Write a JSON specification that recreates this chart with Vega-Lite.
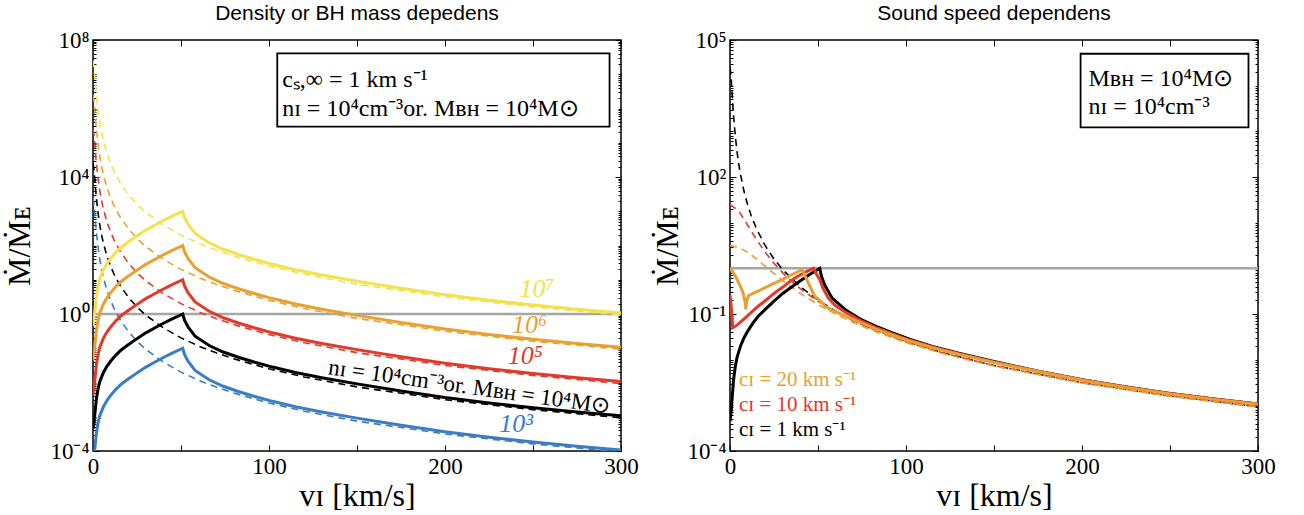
{
"$schema":"https://vega.github.io/schema/vega-lite/v6.json",
"background":"white",
"padding":{"left":2,"top":2,"right":0,"bottom":0},
"bounds":"flush",
"spacing":109,
"resolve":{"scale":{"x":"independent","y":"independent","color":"independent"}},
"config":{
 "view":{"stroke":"#000","strokeWidth":1.5},
 "axis":{"domain":false,"grid":false,"tickColor":"#000","tickWidth":1,"tickSize":-6,"labelPadding":10,"labelFont":"Liberation Serif","labelFontSize":23,"labelColor":"#000","labelFlush":false,"labelOverlap":false,"titleFont":"Liberation Serif","titleFontSize":32,"titleFontWeight":"normal","titleColor":"#000"},
 "title":{"font":"Liberation Sans","fontSize":21,"fontWeight":"normal","color":"#000"},
 "text":{"font":"Liberation Serif"}
},
"datasets":{
"Ls":[
{"s":"7","v":0,"m":4.47e-1},{"s":"7","v":0.5,"m":6.31e-1},{"s":"7","v":1,"m":1.12e0},{"s":"7","v":1.5,"m":2.0e0},{"s":"7","v":2,"m":3.55e0},{"s":"7","v":3,"m":7.08e0},{"s":"7","v":4,"m":1.12e1},{"s":"7","v":6,"m":2.0e1},{"s":"7","v":8,"m":3.02e1},{"s":"7","v":10,"m":4.17e1},{"s":"7","v":13,"m":6.31e1},{"s":"7","v":16,"m":8.91e1},{"s":"7","v":20,"m":1.26e2},{"s":"7","v":25,"m":1.91e2},{"s":"7","v":30,"m":2.82e2},{"s":"7","v":35,"m":3.89e2},{"s":"7","v":40,"m":5.37e2},{"s":"7","v":45,"m":7.24e2},{"s":"7","v":51,"m":1e3},{"s":"7","v":52,"m":6.61e2},{"s":"7","v":54,"m":4.17e2},{"s":"7","v":58,"m":2.24e2},{"s":"7","v":66,"m":1.2e2},{"s":"7","v":74,"m":7.76e1},{"s":"7","v":83,"m":5.37e1},{"s":"7","v":92,"m":3.89e1},{"s":"7","v":102,"m":2.82e1},{"s":"7","v":115,"m":1.95e1},{"s":"7","v":130,"m":1.38e1},{"s":"7","v":150,"m":9.12e0},{"s":"7","v":175,"m":5.62e0},{"s":"7","v":200,"m":3.63e0},{"s":"7","v":225,"m":2.51e0},{"s":"7","v":250,"m":1.82e0},{"s":"7","v":275,"m":1.38e0},{"s":"7","v":300,"m":1.07e0},
{"s":"6","v":0,"m":4.47e-2},{"s":"6","v":0.5,"m":6.31e-2},{"s":"6","v":1,"m":1.12e-1},{"s":"6","v":1.5,"m":2.0e-1},{"s":"6","v":2,"m":3.55e-1},{"s":"6","v":3,"m":7.08e-1},{"s":"6","v":4,"m":1.12e0},{"s":"6","v":6,"m":2.0e0},{"s":"6","v":8,"m":3.02e0},{"s":"6","v":10,"m":4.17e0},{"s":"6","v":13,"m":6.31e0},{"s":"6","v":16,"m":8.91e0},{"s":"6","v":20,"m":1.26e1},{"s":"6","v":25,"m":1.91e1},{"s":"6","v":30,"m":2.82e1},{"s":"6","v":35,"m":3.89e1},{"s":"6","v":40,"m":5.37e1},{"s":"6","v":45,"m":7.24e1},{"s":"6","v":51,"m":1e2},{"s":"6","v":52,"m":6.61e1},{"s":"6","v":54,"m":4.17e1},{"s":"6","v":58,"m":2.24e1},{"s":"6","v":66,"m":1.2e1},{"s":"6","v":74,"m":7.76e0},{"s":"6","v":83,"m":5.37e0},{"s":"6","v":92,"m":3.89e0},{"s":"6","v":102,"m":2.82e0},{"s":"6","v":115,"m":1.95e0},{"s":"6","v":130,"m":1.38e0},{"s":"6","v":150,"m":9.12e-1},{"s":"6","v":175,"m":5.62e-1},{"s":"6","v":200,"m":3.63e-1},{"s":"6","v":225,"m":2.51e-1},{"s":"6","v":250,"m":1.82e-1},{"s":"6","v":275,"m":1.38e-1},{"s":"6","v":300,"m":1.07e-1},
{"s":"5","v":0,"m":4.47e-3},{"s":"5","v":0.5,"m":6.31e-3},{"s":"5","v":1,"m":1.12e-2},{"s":"5","v":1.5,"m":2.0e-2},{"s":"5","v":2,"m":3.55e-2},{"s":"5","v":3,"m":7.08e-2},{"s":"5","v":4,"m":1.12e-1},{"s":"5","v":6,"m":2.0e-1},{"s":"5","v":8,"m":3.02e-1},{"s":"5","v":10,"m":4.17e-1},{"s":"5","v":13,"m":6.31e-1},{"s":"5","v":16,"m":8.91e-1},{"s":"5","v":20,"m":1.26e0},{"s":"5","v":25,"m":1.91e0},{"s":"5","v":30,"m":2.82e0},{"s":"5","v":35,"m":3.89e0},{"s":"5","v":40,"m":5.37e0},{"s":"5","v":45,"m":7.24e0},{"s":"5","v":51,"m":1e1},{"s":"5","v":52,"m":6.61e0},{"s":"5","v":54,"m":4.17e0},{"s":"5","v":58,"m":2.24e0},{"s":"5","v":66,"m":1.2e0},{"s":"5","v":74,"m":7.76e-1},{"s":"5","v":83,"m":5.37e-1},{"s":"5","v":92,"m":3.89e-1},{"s":"5","v":102,"m":2.82e-1},{"s":"5","v":115,"m":1.95e-1},{"s":"5","v":130,"m":1.38e-1},{"s":"5","v":150,"m":9.12e-2},{"s":"5","v":175,"m":5.62e-2},{"s":"5","v":200,"m":3.63e-2},{"s":"5","v":225,"m":2.51e-2},{"s":"5","v":250,"m":1.82e-2},{"s":"5","v":275,"m":1.38e-2},{"s":"5","v":300,"m":1.07e-2},
{"s":"4","v":0,"m":4.47e-4},{"s":"4","v":0.5,"m":6.31e-4},{"s":"4","v":1,"m":1.12e-3},{"s":"4","v":1.5,"m":2.0e-3},{"s":"4","v":2,"m":3.55e-3},{"s":"4","v":3,"m":7.08e-3},{"s":"4","v":4,"m":1.12e-2},{"s":"4","v":6,"m":2.0e-2},{"s":"4","v":8,"m":3.02e-2},{"s":"4","v":10,"m":4.17e-2},{"s":"4","v":13,"m":6.31e-2},{"s":"4","v":16,"m":8.91e-2},{"s":"4","v":20,"m":1.26e-1},{"s":"4","v":25,"m":1.91e-1},{"s":"4","v":30,"m":2.82e-1},{"s":"4","v":35,"m":3.89e-1},{"s":"4","v":40,"m":5.37e-1},{"s":"4","v":45,"m":7.24e-1},{"s":"4","v":51,"m":1e0},{"s":"4","v":52,"m":6.61e-1},{"s":"4","v":54,"m":4.17e-1},{"s":"4","v":58,"m":2.24e-1},{"s":"4","v":66,"m":1.2e-1},{"s":"4","v":74,"m":7.76e-2},{"s":"4","v":83,"m":5.37e-2},{"s":"4","v":92,"m":3.89e-2},{"s":"4","v":102,"m":2.82e-2},{"s":"4","v":115,"m":1.95e-2},{"s":"4","v":130,"m":1.38e-2},{"s":"4","v":150,"m":9.12e-3},{"s":"4","v":175,"m":5.62e-3},{"s":"4","v":200,"m":3.63e-3},{"s":"4","v":225,"m":2.51e-3},{"s":"4","v":250,"m":1.82e-3},{"s":"4","v":275,"m":1.38e-3},{"s":"4","v":300,"m":1.07e-3},
{"s":"3","v":0,"m":4.47e-5},{"s":"3","v":0.5,"m":6.31e-5},{"s":"3","v":1,"m":1.12e-4},{"s":"3","v":1.5,"m":2.0e-4},{"s":"3","v":2,"m":3.55e-4},{"s":"3","v":3,"m":7.08e-4},{"s":"3","v":4,"m":1.12e-3},{"s":"3","v":6,"m":2.0e-3},{"s":"3","v":8,"m":3.02e-3},{"s":"3","v":10,"m":4.17e-3},{"s":"3","v":13,"m":6.31e-3},{"s":"3","v":16,"m":8.91e-3},{"s":"3","v":20,"m":1.26e-2},{"s":"3","v":25,"m":1.91e-2},{"s":"3","v":30,"m":2.82e-2},{"s":"3","v":35,"m":3.89e-2},{"s":"3","v":40,"m":5.37e-2},{"s":"3","v":45,"m":7.24e-2},{"s":"3","v":51,"m":1e-1},{"s":"3","v":52,"m":6.61e-2},{"s":"3","v":54,"m":4.17e-2},{"s":"3","v":58,"m":2.24e-2},{"s":"3","v":66,"m":1.2e-2},{"s":"3","v":74,"m":7.76e-3},{"s":"3","v":83,"m":5.37e-3},{"s":"3","v":92,"m":3.89e-3},{"s":"3","v":102,"m":2.82e-3},{"s":"3","v":115,"m":1.95e-3},{"s":"3","v":130,"m":1.38e-3},{"s":"3","v":150,"m":9.12e-4},{"s":"3","v":175,"m":5.62e-4},{"s":"3","v":200,"m":3.63e-4},{"s":"3","v":225,"m":2.51e-4},{"s":"3","v":250,"m":1.82e-4},{"s":"3","v":275,"m":1.38e-4},{"s":"3","v":300,"m":1.07e-4}
],
"Ld":[
{"s":"7","v":0,"m":2.51e7},{"s":"7","v":0.5,"m":1.8e7},{"s":"7","v":1,"m":8.87e6},{"s":"7","v":1.5,"m":4.29e6},{"s":"7","v":2,"m":2.25e6},{"s":"7","v":3,"m":7.94e5},{"s":"7","v":4,"m":3.58e5},{"s":"7","v":5,"m":1.9e5},{"s":"7","v":6,"m":1.12e5},{"s":"7","v":8,"m":4.8e4},{"s":"7","v":10,"m":2.48e4},{"s":"7","v":12,"m":1.44e4},{"s":"7","v":15,"m":7.4e3},{"s":"7","v":20,"m":3.13e3},{"s":"7","v":25,"m":1.6e3},{"s":"7","v":30,"m":9.29e2},{"s":"7","v":40,"m":3.93e2},{"s":"7","v":50,"m":2.01e2},{"s":"7","v":60,"m":1.16e2},{"s":"7","v":70,"m":7.33e1},{"s":"7","v":80,"m":4.91e1},{"s":"7","v":100,"m":2.51e1},{"s":"7","v":120,"m":1.45e1},{"s":"7","v":150,"m":7.45e0},{"s":"7","v":200,"m":3.14e0},{"s":"7","v":250,"m":1.61e0},{"s":"7","v":300,"m":9.31e-1},
{"s":"6","v":0,"m":2.51e6},{"s":"6","v":0.5,"m":1.8e6},{"s":"6","v":1,"m":8.87e5},{"s":"6","v":1.5,"m":4.29e5},{"s":"6","v":2,"m":2.25e5},{"s":"6","v":3,"m":7.94e4},{"s":"6","v":4,"m":3.58e4},{"s":"6","v":5,"m":1.9e4},{"s":"6","v":6,"m":1.12e4},{"s":"6","v":8,"m":4.8e3},{"s":"6","v":10,"m":2.48e3},{"s":"6","v":12,"m":1.44e3},{"s":"6","v":15,"m":7.4e2},{"s":"6","v":20,"m":3.13e2},{"s":"6","v":25,"m":1.6e2},{"s":"6","v":30,"m":9.29e1},{"s":"6","v":40,"m":3.93e1},{"s":"6","v":50,"m":2.01e1},{"s":"6","v":60,"m":1.16e1},{"s":"6","v":70,"m":7.33e0},{"s":"6","v":80,"m":4.91e0},{"s":"6","v":100,"m":2.51e0},{"s":"6","v":120,"m":1.45e0},{"s":"6","v":150,"m":7.45e-1},{"s":"6","v":200,"m":3.14e-1},{"s":"6","v":250,"m":1.61e-1},{"s":"6","v":300,"m":9.31e-2},
{"s":"5","v":0,"m":2.51e5},{"s":"5","v":0.5,"m":1.8e5},{"s":"5","v":1,"m":8.87e4},{"s":"5","v":1.5,"m":4.29e4},{"s":"5","v":2,"m":2.25e4},{"s":"5","v":3,"m":7.94e3},{"s":"5","v":4,"m":3.58e3},{"s":"5","v":5,"m":1.9e3},{"s":"5","v":6,"m":1.12e3},{"s":"5","v":8,"m":4.8e2},{"s":"5","v":10,"m":2.48e2},{"s":"5","v":12,"m":1.44e2},{"s":"5","v":15,"m":7.4e1},{"s":"5","v":20,"m":3.13e1},{"s":"5","v":25,"m":1.6e1},{"s":"5","v":30,"m":9.29e0},{"s":"5","v":40,"m":3.93e0},{"s":"5","v":50,"m":2.01e0},{"s":"5","v":60,"m":1.16e0},{"s":"5","v":70,"m":7.33e-1},{"s":"5","v":80,"m":4.91e-1},{"s":"5","v":100,"m":2.51e-1},{"s":"5","v":120,"m":1.45e-1},{"s":"5","v":150,"m":7.45e-2},{"s":"5","v":200,"m":3.14e-2},{"s":"5","v":250,"m":1.61e-2},{"s":"5","v":300,"m":9.31e-3},
{"s":"4","v":0,"m":2.51e4},{"s":"4","v":0.5,"m":1.8e4},{"s":"4","v":1,"m":8.87e3},{"s":"4","v":1.5,"m":4.29e3},{"s":"4","v":2,"m":2.25e3},{"s":"4","v":3,"m":7.94e2},{"s":"4","v":4,"m":3.58e2},{"s":"4","v":5,"m":1.9e2},{"s":"4","v":6,"m":1.12e2},{"s":"4","v":8,"m":4.8e1},{"s":"4","v":10,"m":2.48e1},{"s":"4","v":12,"m":1.44e1},{"s":"4","v":15,"m":7.4e0},{"s":"4","v":20,"m":3.13e0},{"s":"4","v":25,"m":1.6e0},{"s":"4","v":30,"m":9.29e-1},{"s":"4","v":40,"m":3.93e-1},{"s":"4","v":50,"m":2.01e-1},{"s":"4","v":60,"m":1.16e-1},{"s":"4","v":70,"m":7.33e-2},{"s":"4","v":80,"m":4.91e-2},{"s":"4","v":100,"m":2.51e-2},{"s":"4","v":120,"m":1.45e-2},{"s":"4","v":150,"m":7.45e-3},{"s":"4","v":200,"m":3.14e-3},{"s":"4","v":250,"m":1.61e-3},{"s":"4","v":300,"m":9.31e-4},
{"s":"3","v":0,"m":2.51e3},{"s":"3","v":0.5,"m":1.8e3},{"s":"3","v":1,"m":8.87e2},{"s":"3","v":1.5,"m":4.29e2},{"s":"3","v":2,"m":2.25e2},{"s":"3","v":3,"m":7.94e1},{"s":"3","v":4,"m":3.58e1},{"s":"3","v":5,"m":1.9e1},{"s":"3","v":6,"m":1.12e1},{"s":"3","v":8,"m":4.8e0},{"s":"3","v":10,"m":2.48e0},{"s":"3","v":12,"m":1.44e0},{"s":"3","v":15,"m":7.4e-1},{"s":"3","v":20,"m":3.13e-1},{"s":"3","v":25,"m":1.6e-1},{"s":"3","v":30,"m":9.29e-2},{"s":"3","v":40,"m":3.93e-2},{"s":"3","v":50,"m":2.01e-2},{"s":"3","v":60,"m":1.16e-2},{"s":"3","v":70,"m":7.33e-3},{"s":"3","v":80,"m":4.91e-3},{"s":"3","v":100,"m":2.51e-3},{"s":"3","v":120,"m":1.45e-3},{"s":"3","v":150,"m":7.45e-4},{"s":"3","v":200,"m":3.14e-4},{"s":"3","v":250,"m":1.61e-4},{"s":"3","v":300,"m":9.31e-5}
],
"Rs":[
{"s":"1","v":0,"m":4.47e-4},{"s":"1","v":0.5,"m":6.31e-4},{"s":"1","v":1,"m":1.12e-3},{"s":"1","v":1.5,"m":2.0e-3},{"s":"1","v":2,"m":3.55e-3},{"s":"1","v":3,"m":7.08e-3},{"s":"1","v":4,"m":1.12e-2},{"s":"1","v":6,"m":2.0e-2},{"s":"1","v":8,"m":3.02e-2},{"s":"1","v":10,"m":4.17e-2},{"s":"1","v":13,"m":6.31e-2},{"s":"1","v":16,"m":8.91e-2},{"s":"1","v":20,"m":1.26e-1},{"s":"1","v":25,"m":1.91e-1},{"s":"1","v":30,"m":2.82e-1},{"s":"1","v":35,"m":3.89e-1},{"s":"1","v":40,"m":5.37e-1},{"s":"1","v":45,"m":7.24e-1},{"s":"1","v":51,"m":1e0},{"s":"1","v":52,"m":6.61e-1},{"s":"1","v":54,"m":4.17e-1},{"s":"1","v":58,"m":2.24e-1},{"s":"1","v":66,"m":1.2e-1},{"s":"1","v":74,"m":7.76e-2},{"s":"1","v":83,"m":5.37e-2},{"s":"1","v":92,"m":3.89e-2},{"s":"1","v":102,"m":2.82e-2},{"s":"1","v":115,"m":1.95e-2},{"s":"1","v":130,"m":1.38e-2},{"s":"1","v":150,"m":9.12e-3},{"s":"1","v":175,"m":5.62e-3},{"s":"1","v":200,"m":3.63e-3},{"s":"1","v":225,"m":2.51e-3},{"s":"1","v":250,"m":1.82e-3},{"s":"1","v":275,"m":1.38e-3},{"s":"1","v":300,"m":1.07e-3},
{"s":"10","v":0,"m":2.63e-1},{"s":"10","v":0.5,"m":1.78e-1},{"s":"10","v":1,"m":1e-1},{"s":"10","v":1.5,"m":5.01e-2},{"s":"10","v":3,"m":5.37e-2},{"s":"10","v":5,"m":6.17e-2},{"s":"10","v":8.5,"m":8.13e-2},{"s":"10","v":12,"m":1.07e-1},{"s":"10","v":16,"m":1.48e-1},{"s":"10","v":20,"m":1.95e-1},{"s":"10","v":25,"m":2.82e-1},{"s":"10","v":30,"m":3.89e-1},{"s":"10","v":35,"m":5.5e-1},{"s":"10","v":40,"m":7.24e-1},{"s":"10","v":44,"m":8.71e-1},{"s":"10","v":47.5,"m":1.0},{"s":"10","v":49,"m":7.59e-1},{"s":"10","v":51,"m":5.62e-1},{"s":"10","v":53,"m":3.55e-1},{"s":"10","v":56,"m":2.19e-1},{"s":"10","v":60,"m":1.51e-1},{"s":"10","v":66,"m":1.07e-1},{"s":"10","v":74,"m":7.24e-2},{"s":"10","v":83,"m":5.01e-2},{"s":"10","v":92,"m":3.72e-2},{"s":"10","v":102,"m":2.69e-2},{"s":"10","v":115,"m":1.91e-2},{"s":"10","v":130,"m":1.35e-2},{"s":"10","v":150,"m":8.91e-3},{"s":"10","v":175,"m":5.62e-3},{"s":"10","v":200,"m":3.63e-3},{"s":"10","v":225,"m":2.51e-3},{"s":"10","v":250,"m":1.82e-3},{"s":"10","v":275,"m":1.38e-3},{"s":"10","v":300,"m":1.07e-3},
{"s":"20","v":0,"m":9.55e-1},{"s":"20","v":1.5,"m":8.51e-1},{"s":"20","v":3,"m":6.76e-1},{"s":"20","v":4.5,"m":5.25e-1},{"s":"20","v":6,"m":3.98e-1},{"s":"20","v":7.5,"m":2.82e-1},{"s":"20","v":8.5,"m":1.91e-1},{"s":"20","v":9,"m":1.26e-1},{"s":"20","v":9.5,"m":1.91e-1},{"s":"20","v":10.5,"m":2.51e-1},{"s":"20","v":13,"m":2.82e-1},{"s":"20","v":16,"m":3.16e-1},{"s":"20","v":20,"m":3.8e-1},{"s":"20","v":25,"m":4.68e-1},{"s":"20","v":30,"m":5.75e-1},{"s":"20","v":35,"m":7.24e-1},{"s":"20","v":41,"m":9.33e-1},{"s":"20","v":44.5,"m":4.79e-1},{"s":"20","v":48,"m":2.51e-1},{"s":"20","v":52,"m":1.82e-1},{"s":"20","v":54,"m":1.48e-1},{"s":"20","v":58,"m":1.2e-1},{"s":"20","v":63,"m":1e-1},{"s":"20","v":70,"m":7.59e-2},{"s":"20","v":83,"m":4.68e-2},{"s":"20","v":92,"m":3.47e-2},{"s":"20","v":102,"m":2.57e-2},{"s":"20","v":115,"m":1.82e-2},{"s":"20","v":130,"m":1.32e-2},{"s":"20","v":150,"m":8.71e-3},{"s":"20","v":175,"m":5.5e-3},{"s":"20","v":200,"m":3.55e-3},{"s":"20","v":225,"m":2.45e-3},{"s":"20","v":250,"m":1.78e-3},{"s":"20","v":275,"m":1.35e-3},{"s":"20","v":300,"m":1.05e-3}
],
"Rd":[
{"s":"1","v":0,"m":2.51e4},{"s":"1","v":0.5,"m":1.8e4},{"s":"1","v":1,"m":8.87e3},{"s":"1","v":1.5,"m":4.29e3},{"s":"1","v":2,"m":2.25e3},{"s":"1","v":3,"m":7.94e2},{"s":"1","v":4,"m":3.58e2},{"s":"1","v":5,"m":1.9e2},{"s":"1","v":6,"m":1.12e2},{"s":"1","v":8,"m":4.8e1},{"s":"1","v":10,"m":2.48e1},{"s":"1","v":12,"m":1.44e1},{"s":"1","v":15,"m":7.4e0},{"s":"1","v":20,"m":3.13e0},{"s":"1","v":25,"m":1.6e0},{"s":"1","v":30,"m":9.29e-1},{"s":"1","v":40,"m":3.93e-1},{"s":"1","v":50,"m":2.01e-1},{"s":"1","v":60,"m":1.16e-1},{"s":"1","v":70,"m":7.33e-2},{"s":"1","v":80,"m":4.91e-2},{"s":"1","v":100,"m":2.51e-2},{"s":"1","v":120,"m":1.45e-2},{"s":"1","v":150,"m":7.45e-3},{"s":"1","v":200,"m":3.14e-3},{"s":"1","v":250,"m":1.61e-3},{"s":"1","v":300,"m":9.31e-4},
{"s":"10","v":0,"m":2.51e1},{"s":"10","v":5,"m":1.8e1},{"s":"10","v":10,"m":8.87e0},{"s":"10","v":15,"m":4.29e0},{"s":"10","v":20,"m":2.25e0},{"s":"10","v":25,"m":1.29e0},{"s":"10","v":30,"m":7.94e-1},{"s":"10","v":35,"m":5.21e-1},{"s":"10","v":40,"m":3.58e-1},{"s":"10","v":50,"m":1.9e-1},{"s":"10","v":60,"m":1.12e-1},{"s":"10","v":70,"m":7.11e-2},{"s":"10","v":80,"m":4.8e-2},{"s":"10","v":100,"m":2.47e-2},{"s":"10","v":120,"m":1.44e-2},{"s":"10","v":150,"m":7.4e-3},{"s":"10","v":200,"m":3.13e-3},{"s":"10","v":250,"m":1.6e-3},{"s":"10","v":300,"m":9.29e-4},
{"s":"20","v":0,"m":3.14e0},{"s":"20","v":5,"m":2.87e0},{"s":"20","v":10,"m":2.25e0},{"s":"20","v":15,"m":1.61e0},{"s":"20","v":20,"m":1.11e0},{"s":"20","v":25,"m":7.66e-1},{"s":"20","v":30,"m":5.36e-1},{"s":"20","v":35,"m":3.84e-1},{"s":"20","v":40,"m":2.81e-1},{"s":"20","v":50,"m":1.61e-1},{"s":"20","v":60,"m":9.93e-2},{"s":"20","v":70,"m":6.5e-2},{"s":"20","v":80,"m":4.48e-2},{"s":"20","v":100,"m":2.37e-2},{"s":"20","v":120,"m":1.39e-2},{"s":"20","v":150,"m":7.24e-3},{"s":"20","v":200,"m":3.09e-3},{"s":"20","v":250,"m":1.59e-3},{"s":"20","v":300,"m":9.25e-4}
]
},
"hconcat":[
{
 "width":528,"height":411,
 "title":{"text":"Density or BH mass depedens","offset":5},
 "resolve":{"axis":{"x":"independent","y":"independent"}},
 "layer":[
  {"data":{"values":[{"level":1}]},
   "mark":{"type":"rule","color":"#a6a6a6","strokeWidth":2.5},
   "encoding":{"y":{"field":"level","type":"quantitative","scale":{"type":"log","domain":[1e-4,1e8],"nice":false},"axis":null}}},
  {"data":{"name":"Ld"},
   "mark":{"type":"line","strokeWidth":1.6,"strokeDash":[7,5],"clip":true},
   "encoding":{
    "x":{"field":"v","type":"quantitative","scale":{"domain":[0,300],"nice":false,"zero":false},
         "axis":{"orient":"bottom","values":[0,50,100,150,200,250,300],"labelExpr":"datum.value % 100 === 0 ? datum.label : ''","title":"vɪ [km/s]","titlePadding":2}},
    "y":{"field":"m","type":"quantitative","scale":{"type":"log","domain":[1e-4,1e8],"nice":false},
         "axis":{"orient":"left","values":[1e-4,2e-4,3e-4,4e-4,5e-4,6e-4,7e-4,8e-4,9e-4,1e-3,2e-3,3e-3,4e-3,5e-3,6e-3,7e-3,8e-3,9e-3,1e-2,2e-2,3e-2,4e-2,5e-2,6e-2,7e-2,8e-2,9e-2,1e-1,2e-1,3e-1,4e-1,5e-1,6e-1,7e-1,8e-1,9e-1,1,2,3,4,5,6,7,8,9,10,20,30,40,50,60,70,80,90,100,200,300,400,500,600,700,800,900,1000,2000,3000,4000,5000,6000,7000,8000,9000,1e4,2e4,3e4,4e4,5e4,6e4,7e4,8e4,9e4,1e5,2e5,3e5,4e5,5e5,6e5,7e5,8e5,9e5,1e6,2e6,3e6,4e6,5e6,6e6,7e6,8e6,9e6,1e7,2e7,3e7,4e7,5e7,6e7,7e7,8e7,9e7,1e8],
           "labelExpr":"datum.value === 1e8 ? '10⁸' : datum.value === 1e4 ? '10⁴' : datum.value === 1 ? '10⁰' : datum.value === 1e-4 ? '10⁻⁴' : ''",
           "tickSize":{"condition":{"test":"datum.value === 1e8 || datum.value === 1e4 || datum.value === 1 || datum.value === 1e-4","value":-6},"value":-3},
           "title":"Ṁ/Ṁᴇ","minExtent":47,"maxExtent":47,"titlePadding":10}},
    "color":{"field":"s","type":"nominal","scale":{"domain":["7","6","5","4","3"],"range":["#F3E14D","#E8A032","#E2392A","#000000","#3A7DC3"]},"legend":null}
   }},
  {"data":{"name":"Ls"},
   "mark":{"type":"line","strokeWidth":3,"clip":true},
   "encoding":{
    "x":{"field":"v","type":"quantitative","axis":{"orient":"top","values":[0,50,100,150,200,250,300],"labels":false,"title":null}},
    "y":{"field":"m","type":"quantitative","axis":{"orient":"right","labels":false,"title":null,
           "values":[1e-4,2e-4,3e-4,4e-4,5e-4,6e-4,7e-4,8e-4,9e-4,1e-3,2e-3,3e-3,4e-3,5e-3,6e-3,7e-3,8e-3,9e-3,1e-2,2e-2,3e-2,4e-2,5e-2,6e-2,7e-2,8e-2,9e-2,1e-1,2e-1,3e-1,4e-1,5e-1,6e-1,7e-1,8e-1,9e-1,1,2,3,4,5,6,7,8,9,10,20,30,40,50,60,70,80,90,100,200,300,400,500,600,700,800,900,1000,2000,3000,4000,5000,6000,7000,8000,9000,1e4,2e4,3e4,4e4,5e4,6e4,7e4,8e4,9e4,1e5,2e5,3e5,4e5,5e5,6e5,7e5,8e5,9e5,1e6,2e6,3e6,4e6,5e6,6e6,7e6,8e6,9e6,1e7,2e7,3e7,4e7,5e7,6e7,7e7,8e7,9e7,1e8],
           "tickSize":{"condition":{"test":"datum.value === 1e8 || datum.value === 1e4 || datum.value === 1 || datum.value === 1e-4","value":-6},"value":-3}}},
    "color":{"field":"s","type":"nominal","legend":null}
   }},
  {"data":{"values":[{"v1":104.7,"v2":293.5,"m1":2.95e5,"m2":4.07e7}]},
   "mark":{"type":"rect","fill":"#ffffff","stroke":"#000000","strokeWidth":1.8},
   "encoding":{"x":{"field":"v1","type":"quantitative","axis":null},"x2":{"field":"v2"},"y":{"field":"m1","type":"quantitative","axis":null},"y2":{"field":"m2"}}},
  {"data":{"values":[{"v":107.5,"m":6.9e6,"t":"cₛ,∞ = 1 km s⁻¹"},{"v":107.5,"m":9.8e5,"t":"nɪ = 10⁴cm⁻³or. Mʙʜ = 10⁴M⊙"}]},
   "mark":{"type":"text","fontSize":24,"align":"left","baseline":"middle","color":"#000000"},
   "encoding":{"x":{"field":"v","type":"quantitative","axis":null},"y":{"field":"m","type":"quantitative","axis":null},"text":{"field":"t"}}},
  {"data":{"values":[{"v":252.3,"m":5.4,"t":"10⁷","s":"7"},{"v":248,"m":0.49,"t":"10⁶","s":"6"},{"v":245.6,"m":0.059,"t":"10⁵","s":"5"},{"v":240.4,"m":6.0e-4,"t":"10³","s":"3"}]},
   "mark":{"type":"text","fontSize":26,"fontStyle":"italic","align":"center","baseline":"middle"},
   "encoding":{"x":{"field":"v","type":"quantitative","axis":null},"y":{"field":"m","type":"quantitative","axis":null},"text":{"field":"t"},"color":{"field":"s","type":"nominal","legend":null}}},
  {"data":{"values":[{"v":213.8,"m":7.4e-3,"t":"nɪ = 10⁴cm⁻³or. Mʙʜ = 10⁴M⊙"}]},
   "mark":{"type":"text","fontSize":23,"angle":8,"align":"center","baseline":"middle","color":"#000000"},
   "encoding":{"x":{"field":"v","type":"quantitative","axis":null},"y":{"field":"m","type":"quantitative","axis":null},"text":{"field":"t"}}}
 ]
},
{
 "width":528,"height":411,
 "title":{"text":"Sound speed dependens","offset":5},
 "resolve":{"axis":{"x":"independent","y":"independent"}},
 "layer":[
  {"data":{"values":[{"level":1}]},
   "mark":{"type":"rule","color":"#a6a6a6","strokeWidth":2.5},
   "encoding":{"y":{"field":"level","type":"quantitative","scale":{"type":"log","domain":[1e-4,1e5],"nice":false},"axis":null}}},
  {"data":{"name":"Rd"},
   "mark":{"type":"line","strokeWidth":1.6,"strokeDash":[7,5],"clip":true},
   "encoding":{
    "x":{"field":"v","type":"quantitative","scale":{"domain":[0,300],"nice":false,"zero":false},
         "axis":{"orient":"bottom","values":[0,50,100,150,200,250,300],"labelExpr":"datum.value % 100 === 0 ? datum.label : ''","title":"vɪ [km/s]","titlePadding":2}},
    "y":{"field":"m","type":"quantitative","scale":{"type":"log","domain":[1e-4,1e5],"nice":false},
         "axis":{"orient":"left","values":[1e-4,2e-4,3e-4,4e-4,5e-4,6e-4,7e-4,8e-4,9e-4,1e-3,2e-3,3e-3,4e-3,5e-3,6e-3,7e-3,8e-3,9e-3,1e-2,2e-2,3e-2,4e-2,5e-2,6e-2,7e-2,8e-2,9e-2,1e-1,2e-1,3e-1,4e-1,5e-1,6e-1,7e-1,8e-1,9e-1,1,2,3,4,5,6,7,8,9,10,20,30,40,50,60,70,80,90,100,200,300,400,500,600,700,800,900,1000,2000,3000,4000,5000,6000,7000,8000,9000,1e4,2e4,3e4,4e4,5e4,6e4,7e4,8e4,9e4,1e5],
           "labelExpr":"datum.value === 1e5 ? '10⁵' : datum.value === 100 ? '10²' : datum.value === 0.1 ? '10⁻¹' : datum.value === 1e-4 ? '10⁻⁴' : ''",
           "tickSize":{"condition":{"test":"datum.value === 1e5 || datum.value === 100 || datum.value === 0.1 || datum.value === 1e-4","value":-6},"value":-3},
           "title":"Ṁ/Ṁᴇ","minExtent":42,"maxExtent":42,"titlePadding":4}},
    "color":{"field":"s","type":"nominal","scale":{"domain":["20","10","1"],"range":["#E8A032","#E2392A","#000000"]},"legend":null}
   }},
  {"data":{"name":"Rs"},
   "mark":{"type":"line","strokeWidth":3,"clip":true},
   "encoding":{
    "x":{"field":"v","type":"quantitative","axis":{"orient":"top","values":[0,50,100,150,200,250,300],"labels":false,"title":null}},
    "y":{"field":"m","type":"quantitative","axis":{"orient":"right","labels":false,"title":null,
           "values":[1e-4,2e-4,3e-4,4e-4,5e-4,6e-4,7e-4,8e-4,9e-4,1e-3,2e-3,3e-3,4e-3,5e-3,6e-3,7e-3,8e-3,9e-3,1e-2,2e-2,3e-2,4e-2,5e-2,6e-2,7e-2,8e-2,9e-2,1e-1,2e-1,3e-1,4e-1,5e-1,6e-1,7e-1,8e-1,9e-1,1,2,3,4,5,6,7,8,9,10,20,30,40,50,60,70,80,90,100,200,300,400,500,600,700,800,900,1000,2000,3000,4000,5000,6000,7000,8000,9000,1e4,2e4,3e4,4e4,5e4,6e4,7e4,8e4,9e4,1e5],
           "tickSize":{"condition":{"test":"datum.value === 1e5 || datum.value === 100 || datum.value === 0.1 || datum.value === 1e-4","value":-6},"value":-3}}},
    "color":{"field":"s","type":"nominal","legend":null}
   }},
  {"data":{"values":[{"v1":199.2,"v2":294.6,"m1":1.22e3,"m2":5.0e4}]},
   "mark":{"type":"rect","fill":"#ffffff","stroke":"#000000","strokeWidth":1.8},
   "encoding":{"x":{"field":"v1","type":"quantitative","axis":null},"x2":{"field":"v2"},"y":{"field":"m1","type":"quantitative","axis":null},"y2":{"field":"m2"}}},
  {"data":{"values":[{"v":203.7,"m":1.37e4,"t":"Mʙʜ = 10⁴M⊙"},{"v":203.7,"m":3.33e3,"t":"nɪ = 10⁴cm⁻³"}]},
   "mark":{"type":"text","fontSize":24,"align":"left","baseline":"middle","color":"#000000"},
   "encoding":{"x":{"field":"v","type":"quantitative","axis":null},"y":{"field":"m","type":"quantitative","axis":null},"text":{"field":"t"}}},
  {"data":{"values":[{"v":5.1,"m":3.5e-3,"t":"cɪ = 20 km s⁻¹","s":"20"},{"v":5.1,"m":1.0e-3,"t":"cɪ = 10 km s⁻¹","s":"10"},{"v":5.1,"m":2.9e-4,"t":"cɪ = 1 km s⁻¹","s":"1"}]},
   "mark":{"type":"text","fontSize":21,"align":"left","baseline":"middle"},
   "encoding":{"x":{"field":"v","type":"quantitative","axis":null},"y":{"field":"m","type":"quantitative","axis":null},"text":{"field":"t"},"color":{"field":"s","type":"nominal","legend":null}}}
 ]
}
]
}
